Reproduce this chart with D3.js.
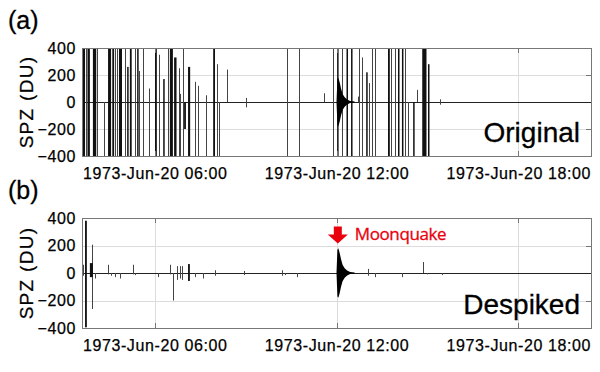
<!DOCTYPE html>
<html>
<head>
<meta charset="utf-8">
<script src="https://cdn.jsdelivr.net/npm/d3@7"></script>
<style>
  body { margin: 0; background: #fff; }
  text { font-family: "Liberation Sans", Arial, sans-serif; }
</style>
</head>
<body>
<svg id="chart" width="600" height="372"></svg>
<script>
// time in hours on 1973-Jun-20
const timeDomain = [3.6, 20.4];
const xTicks = [6, 12, 18];
const xTickLabels = ["1973-Jun-20 06:00", "1973-Jun-20 12:00", "1973-Jun-20 18:00"];
const yTicks = [400, 200, 0, -200, -400];

// spikes: [start hour, end hour, max DU, min DU]
const originalSpikes = [
  [3.63, 3.70, 400, -400], [3.74, 3.74, 400, -400], [3.78, 3.86, 400, -400],
  [3.96, 4.07, 400, -400], [4.10, 4.10, 400, -400], [4.33, 4.33, 0, -400],
  [4.46, 4.56, 400, -400], [4.60, 4.66, 400, -400], [4.69, 4.69, 400, -400],
  [4.75, 4.75, 400, -400], [4.82, 4.92, 400, -400], [5.02, 5.02, 400, -400],
  [5.09, 5.12, 260, -400], [5.18, 5.24, 400, -400], [5.35, 5.35, 400, -400],
  [5.42, 5.45, 400, -400], [5.48, 5.48, 230, -400], [5.61, 5.61, 400, -400],
  [5.81, 5.81, 100, -400], [6.01, 6.07, 400, -400], [6.14, 6.14, 350, -400],
  [6.28, 6.31, 170, -400], [6.44, 6.44, 400, -400], [6.50, 6.60, 400, -400],
  [6.64, 6.72, 330, -400], [6.80, 6.80, 250, -400], [6.83, 6.83, 60, -400],
  [6.93, 6.93, 400, -400], [6.97, 7.03, 0, -200], [7.10, 7.17, 260, -400],
  [7.33, 7.33, 150, -400], [7.43, 7.43, 120, -400], [7.69, 7.69, 50, -400],
  [7.93, 7.99, 400, -400], [8.06, 8.06, 280, -400], [8.12, 8.12, 0, -400],
  [8.39, 8.39, 240, 0], [9.01, 9.01, 30, -40], [10.37, 10.37, 400, -400],
  [10.76, 10.76, 400, -400], [11.59, 11.59, 65, 0], [11.88, 11.88, 400, -400],
  [12.02, 12.05, 400, -400], [12.18, 12.18, 400, -400], [12.33, 12.38, 400, -400],
  [12.48, 12.51, 400, -400], [12.71, 12.71, 40, 0], [12.74, 12.74, 400, -400],
  [12.84, 12.84, 330, -400], [12.98, 13.01, 220, -400], [13.07, 13.07, 140, -400],
  [13.17, 13.17, 400, -400], [13.27, 13.27, 400, -400], [13.70, 13.76, 400, -400],
  [13.80, 13.80, 400, -400], [13.93, 13.93, 400, -400], [14.03, 14.06, 400, -400],
  [14.16, 14.19, 400, -400], [14.26, 14.26, 400, -400], [14.36, 14.36, 0, -400],
  [14.53, 14.56, 0, -400], [14.66, 14.66, 90, 0], [14.83, 14.97, 400, -400],
  [15.02, 15.05, 280, -400], [15.42, 15.42, 20, -20]
];

const despikedSpikes = [
  [3.62, 3.62, 60, -20],
  [3.70, 3.76, 380, -395], [3.93, 3.93, 206, -262], [3.86, 3.96, 72, -30],
  [4.03, 4.03, 0, -40], [4.46, 4.46, 60, -10], [4.56, 4.56, 0, -20],
  [4.69, 4.69, 0, -30], [4.85, 4.85, 0, -40], [5.28, 5.28, 60, -10],
  [5.35, 5.35, 0, -15], [6.11, 6.11, 0, -30], [6.50, 6.50, 60, -10],
  [6.60, 6.60, 0, -200], [6.73, 6.73, 50, -50], [6.83, 6.83, 50, -40],
  [6.90, 6.90, 50, -50], [7.10, 7.16, 65, -58], [7.33, 7.33, 0, -30],
  [7.59, 7.59, 0, -40], [7.99, 7.99, 20, -20], [8.95, 8.95, 15, -15],
  [10.20, 10.20, 20, -20], [10.30, 10.30, 0, -15], [10.70, 10.70, 0, -30],
  [13.04, 13.04, 30, -20], [13.27, 13.27, 0, -30], [14.16, 14.16, 0, -30],
  [14.85, 14.85, 80, 0], [14.99, 14.99, 0, -10], [15.48, 15.48, 0, -15]
];

// moonquake envelope
const moonquakeT = [12.00, 12.03, 12.06, 12.10, 12.15, 12.20, 12.27, 12.35, 12.45, 12.60];
const moonquakeAmp = [0, 170, 180, 150, 100, 60, 35, 18, 8, 3];

const svg = d3.select("#chart");
const x = d3.scaleLinear().domain(timeDomain).range([82, 591]);
const [left, right] = x.range();
const font = "'Liberation Sans', Arial, sans-serif";

function drawPanel(spikes, tag, word, top, bottom) {
  const y = d3.scaleLinear().domain([-400, 400]).range([bottom, top]).clamp(true);
  const g = svg.append("g");

  // grid
  g.selectAll(".hgrid").data([200, -200]).enter().append("line")
    .attr("x1", left).attr("x2", right)
    .attr("y1", d => Math.round(y(d)) + 0.5).attr("y2", d => Math.round(y(d)) + 0.5)
    .attr("stroke", "#dcdcdc");
  g.selectAll(".vgrid").data(xTicks).enter().append("line")
    .attr("x1", d => Math.round(x(d)) + 0.5).attr("x2", d => Math.round(x(d)) + 0.5)
    .attr("y1", top).attr("y2", bottom)
    .attr("stroke", "#dcdcdc");

  // baseline trace
  g.append("line")
    .attr("x1", left).attr("x2", right)
    .attr("y1", Math.round(y(0)) + 0.5).attr("y2", Math.round(y(0)) + 0.5)
    .attr("stroke", "#222").attr("stroke-width", 1);

  // spikes
  spikes.forEach(s => {
    if (s[1] > s[0]) {
      g.append("rect")
        .attr("x", x(s[0])).attr("width", Math.max(1.5, x(s[1]) - x(s[0])))
        .attr("y", y(s[2])).attr("height", y(s[3]) - y(s[2]))
        .attr("fill", "#111");
    } else {
      g.append("line")
        .attr("x1", Math.round(x(s[0])) + 0.5).attr("x2", Math.round(x(s[0])) + 0.5)
        .attr("y1", y(s[2])).attr("y2", y(s[3]))
        .attr("stroke", "#444").attr("stroke-width", 1);
    }
  });

  // moonquake
  const area = d3.area()
    .x((d, i) => x(moonquakeT[i]))
    .y0(d => y(-d))
    .y1(d => y(d));
  g.append("path").datum(moonquakeAmp).attr("d", area).attr("fill", "#000");

  // frame
  g.append("rect")
    .attr("x", left + 0.5).attr("y", top + 0.5)
    .attr("width", right - left).attr("height", bottom - top)
    .attr("fill", "none").attr("stroke", "#777");

  // inner ticks
  g.selectAll(".rtick").data([200, -200]).enter().append("line")
    .attr("x1", right - 5).attr("x2", right)
    .attr("y1", d => Math.round(y(d)) + 0.5).attr("y2", d => Math.round(y(d)) + 0.5)
    .attr("stroke", "#777");
  g.selectAll(".ttick").data(xTicks).enter().append("line")
    .attr("x1", d => Math.round(x(d)) + 0.5).attr("x2", d => Math.round(x(d)) + 0.5)
    .attr("y1", top).attr("y2", top + 5)
    .attr("stroke", "#777");
  g.selectAll(".btick").data(xTicks).enter().append("line")
    .attr("x1", d => Math.round(x(d)) + 0.5).attr("x2", d => Math.round(x(d)) + 0.5)
    .attr("y1", bottom - 5).attr("y2", bottom)
    .attr("stroke", "#777");

  // axes
  const yAxis = g.append("g")
    .attr("transform", `translate(${left},0)`)
    .call(d3.axisLeft(y).tickValues(yTicks).tickSize(0).tickPadding(6));
  yAxis.select(".domain").remove();
  yAxis.selectAll("text")
    .style("font-family", font)
    .style("font-size", "16px").style("letter-spacing", "0.6px")
    .attr("fill", "#000").attr("stroke", "#000").attr("stroke-width", 0.25);

  const xAxis = g.append("g")
    .attr("transform", `translate(0,${bottom})`)
    .call(d3.axisBottom(x).tickValues(xTicks).tickFormat((d, i) => xTickLabels[i])
      .tickSize(0).tickPadding(12));
  xAxis.select(".domain").remove();
  xAxis.selectAll("text")
    .style("font-family", font)
    .style("font-size", "16px").style("letter-spacing", "0.6px")
    .attr("fill", "#000").attr("stroke", "#000").attr("stroke-width", 0.25);

  // y label
  g.append("text")
    .attr("transform", `translate(33,${(top + bottom) / 2}) rotate(-90)`)
    .attr("text-anchor", "middle")
    .style("font-family", font)
    .style("font-size", "19px").style("letter-spacing", "1.3px")
    .attr("stroke", "#000").attr("stroke-width", 0.25)
    .text("SPZ (DU)");

  // panel tag
  g.append("text")
    .attr("x", 8).attr("y", top - 19)
    .style("font-family", font)
    .style("font-size", "25px")
    .attr("stroke", "#000").attr("stroke-width", 0.3)
    .text(tag);

  // panel word
  g.append("text")
    .attr("x", 580).attr("y", bottom - 14)
    .attr("text-anchor", "end")
    .style("font-family", font)
    .style("font-size", "28px")
    .attr("stroke", "#000").attr("stroke-width", 0.3)
    .text(word);

  return y;
}

drawPanel(originalSpikes, "(a)", "Original", 48, 156);
const yb = drawPanel(despikedSpikes, "(b)", "Despiked", 218, 328);

// moonquake annotation
const ax = x(moonquakeT[2]) - 0.5;
const tipY = yb(215);
const arrow = d3.path();
arrow.moveTo(ax - 4, tipY - 17);
arrow.lineTo(ax + 4, tipY - 17);
arrow.lineTo(ax + 4, tipY - 9);
arrow.lineTo(ax + 10, tipY - 9);
arrow.lineTo(ax, tipY);
arrow.lineTo(ax - 10, tipY - 9);
arrow.lineTo(ax - 4, tipY - 9);
arrow.closePath();
svg.append("path").attr("d", arrow.toString()).attr("fill", "#e8000d");

svg.append("text")
  .attr("x", ax + 17).attr("y", tipY - 3)
  .style("font-family", "'Open Sans', sans-serif")
  .style("font-size", "17px").style("letter-spacing", "-0.4px")
  .attr("fill", "#e8000d").attr("stroke", "#e8000d").attr("stroke-width", 0.3)
  .text("Moonquake");
</script>
</body>
</html>
